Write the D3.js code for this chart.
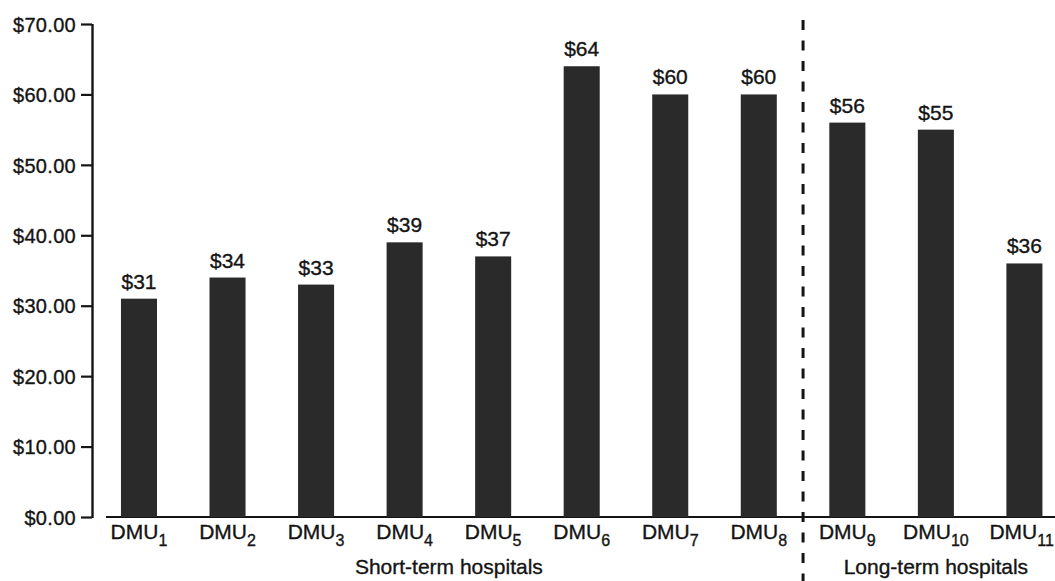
<!DOCTYPE html>
<html>
<head>
<meta charset="utf-8">
<script src="https://cdn.jsdelivr.net/npm/d3@7"></script>
<style>
  html, body { margin: 0; padding: 0; background: #fff; }
  svg { display: block; font-family: "Liberation Sans", Arial, Helvetica, sans-serif; }
  svg text { stroke: #141414; stroke-width: 0.35px; }
</style>
</head>
<body>
<svg id="chart" width="1055" height="581"></svg>
<script>
// Cost per unit by decision-making unit (hospital)
const units = ["1", "2", "3", "4", "5", "6", "7", "8", "9", "10", "11"];
const costs = [31, 34, 33, 39, 37, 64, 60, 60, 56, 55, 36];
const yTicks = [0, 10, 20, 30, 40, 50, 60, 70];
const groups = ["Short-term hospitals", "Long-term hospitals"];
const groupMembers = [["1", "8"], ["9", "11"]];

const W = 1055;
const svg = d3.select("#chart");
const ink = "#141414";
const barFill = "#2a2a2a";

const x = d3.scaleBand()
  .domain(units)
  .range([94.4, 1069])
  .paddingInner(0.593)
  .paddingOuter(0.3);

const y = d3.scaleLinear()
  .domain([0, 70])
  .range([517, 24]);

// Y axis
const yAxis = d3.axisLeft(y)
  .tickValues(yTicks)
  .tickSize(11)
  .tickPadding(5)
  .tickFormat(d => "$" + d3.format(".2f")(d));

const gy = svg.append("g")
  .attr("transform", "translate(92,0)")
  .call(yAxis);
gy.select(".domain").attr("stroke", ink).attr("stroke-width", 2.4)
  .attr("d", `M0.5,${y(70)}V${y(0) + 1}`);
gy.selectAll(".tick line").attr("stroke", ink).attr("stroke-width", 2.2);
gy.selectAll(".tick text")
  .attr("fill", ink)
  .style("font-size", "20px")
  .style("letter-spacing", "0.3px")
  .attr("dy", "0.36em");

// Baseline under the bars
svg.append("line")
  .attr("x1", 106).attr("x2", W)
  .attr("y1", y(0)).attr("y2", y(0))
  .attr("stroke", ink).attr("stroke-width", 2.2);

// Bars
svg.append("g").selectAll("rect")
  .data(units)
  .join("rect")
  .attr("x", d => x(d))
  .attr("width", x.bandwidth())
  .attr("y", (d, i) => y(costs[i]))
  .attr("height", (d, i) => y(0) - y(costs[i]))
  .attr("fill", barFill);

// Value labels
svg.append("g").selectAll("text")
  .data(units)
  .join("text")
  .attr("x", d => x(d) + x.bandwidth() / 2)
  .attr("y", (d, i) => y(costs[i]) - 10)
  .attr("text-anchor", "middle")
  .attr("fill", ink)
  .style("font-size", "21px")
  .text((d, i) => "$" + costs[i]);

// Category labels: DMU with subscript index
const cat = svg.append("g").selectAll("text")
  .data(units)
  .join("text")
  .attr("x", d => x(d) + x.bandwidth() / 2)
  .attr("y", 539)
  .attr("text-anchor", "middle")
  .attr("fill", ink)
  .style("font-size", "21px");
cat.append("tspan").text("DMU");
cat.append("tspan")
  .attr("dy", 7)
  .style("font-size", "16px")
  .text(d => d);

// Keep the rightmost label inside the frame
cat.each(function () {
  const b = this.getBBox();
  const over = b.x + b.width - (W - 1);
  if (over > 0) {
    const t = d3.select(this);
    t.attr("x", +t.attr("x") - over);
  }
});

// Divider between hospital types
const divX = (x(units[7]) + x.bandwidth() + x(units[8])) / 2;
svg.append("line")
  .attr("x1", divX).attr("x2", divX)
  .attr("y1", 20).attr("y2", 581)
  .attr("stroke", ink)
  .attr("stroke-width", 3)
  .attr("stroke-dasharray", "10,10.5");

// Group labels
svg.append("g").selectAll("text")
  .data(groups)
  .join("text")
  .attr("x", (d, i) => {
    const [a, b] = groupMembers[i];
    return (x(a) + x(b) + x.bandwidth()) / 2;
  })
  .attr("y", 574)
  .attr("text-anchor", "middle")
  .attr("fill", ink)
  .style("font-size", "21px")
  .text(d => d);
</script>
</body>
</html>
